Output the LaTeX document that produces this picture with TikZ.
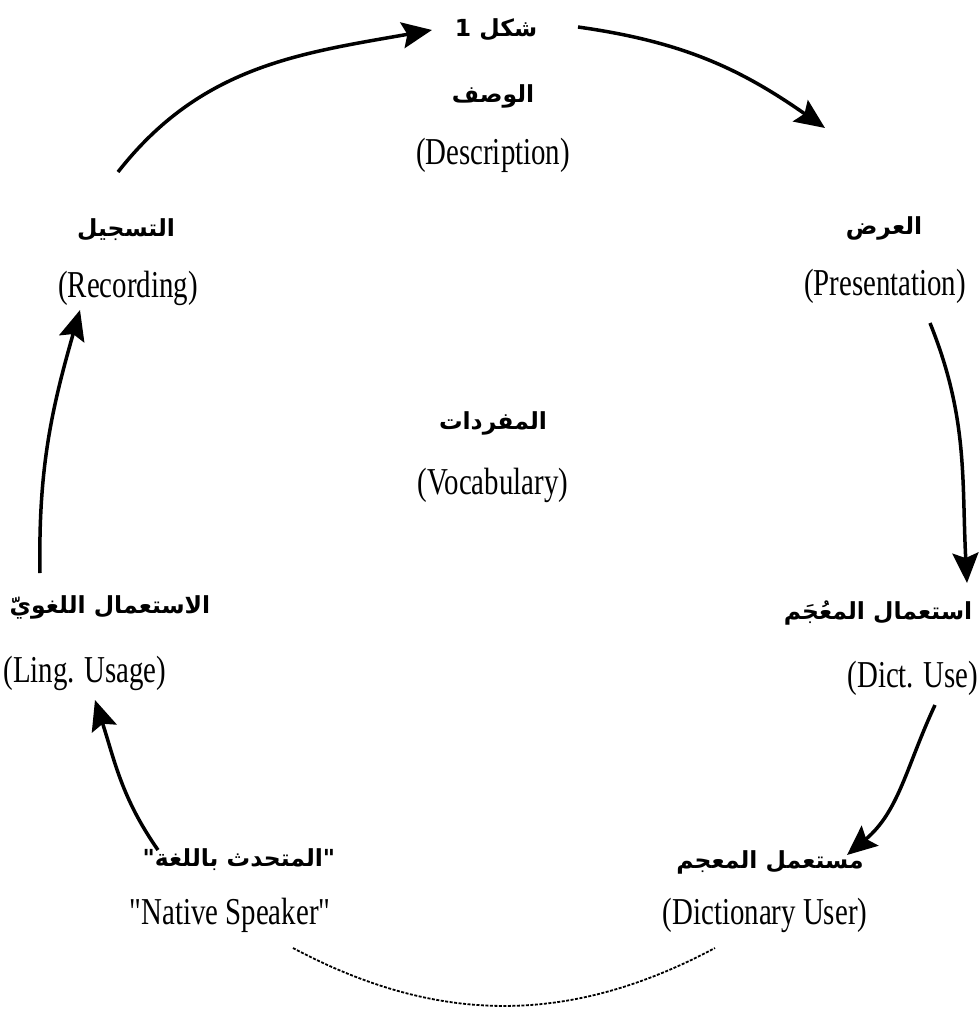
\documentclass[tikz,border=0pt]{standalone}
\usepackage{fontspec}
\newfontfamily\enfont{Liberation Serif}[FakeStretch=0.76]
\newfontfamily\arabicfont[Script=Arabic]{DejaVu Sans}
\TeXXeTstate=1
\usetikzlibrary{arrows.meta}

\begin{document}
\begin{tikzpicture}[x=1pt,y=1pt,
		en/.style={font=\enfont\fontsize{38}{40}\selectfont, inner sep=0pt},
		ar/.style={font=\arabicfont\bfseries\fontsize{23.5}{28}\selectfont, inner sep=0pt},
		arr/.style={line width=3.5pt, -{Stealth[length=30pt,width=26pt,inset=5pt]}}]
		\useasboundingbox (0,0) rectangle (980,-1021);
		
		% labels
		\node[ar] (fig) at (496,-30) {\beginR شكل 1\endR};
		\node[ar] (desc_ar) at (493,-96) {\beginR الوصف\endR};
		\node[en] (desc_en) at (493,-155) {(Description)};
		\node[ar] (pres_ar) at (884,-228) {\beginR العرض\endR};
		\node[en] (pres_en) at (885,-286) {(Presentation)};
		\node[ar] (rec_ar) at (126,-230) {\beginR التسجيل\endR};
		\node[en] (rec_en) at (128,-288) {(Recording)};
		\node[ar] (voc_ar) at (493,-423) {\beginR المفردات\endR};
		\node[en] (voc_en) at (493,-485) {(Vocabulary)};
		\node[ar] (ling_ar) at (110,-607) {\beginR الاستعمال اللغويّ\endR};
		\node[en] (ling_en) at (85,-673) {(Ling. Usage)};
		\node[ar] (dict_ar) at (878,-613) {\beginR استعمال المعُجَم\endR};
		\node[en] (dict_en) at (913,-678) {(Dict. Use)};
		\node[ar] (nat_ar) at (239,-860) {\beginR "المتحدث باللغة"\endR};
		\node[en] (nat_en) at (230,-915) {"Native Speaker"};
		\node[ar] (user_ar) at (770,-862) {\beginR مستعمل المعجم\endR};
		\node[en] (user_en) at (765,-915) {(Dictionary User)};
		
		% cycle
		\draw[arr] ([shift={(-8,58)}]rec_ar.center) to[out=52,in=190] ([shift={(-64,0)}]fig.center);
		\draw[arr] ([shift={(82,3)}]fig.center) to[out=-8,in=145] ([shift={(-59,100)}]pres_ar.center);
		\draw[arr] ([shift={(45,-37)}]pres_en.center) to[out=-68,in=93] ([shift={(89,30)}]dict_ar.center);
		\draw[arr] ([shift={(22,-27)}]dict_en.center) to[out=-115,in=40] ([shift={(77,7)}]user_ar.center);
		\draw[arr] ([shift={(-81,10)}]nat_ar.center) to[out=125,in=-72] ([shift={(-15,-93)}]ling_ar.center);
		\draw[arr] ([shift={(-70,34)}]ling_ar.center) to[out=91,in=-106] ([shift={(-48,-22)}]rec_en.center);
		
		\draw[line width=1.8pt, dash pattern=on 3pt off 1.5pt] ([shift={(63,-33)}]nat_en.center) to[out=-28,in=208] ([shift={(-50,-33)}]user_en.center);
	\end{tikzpicture}
\end{document}
